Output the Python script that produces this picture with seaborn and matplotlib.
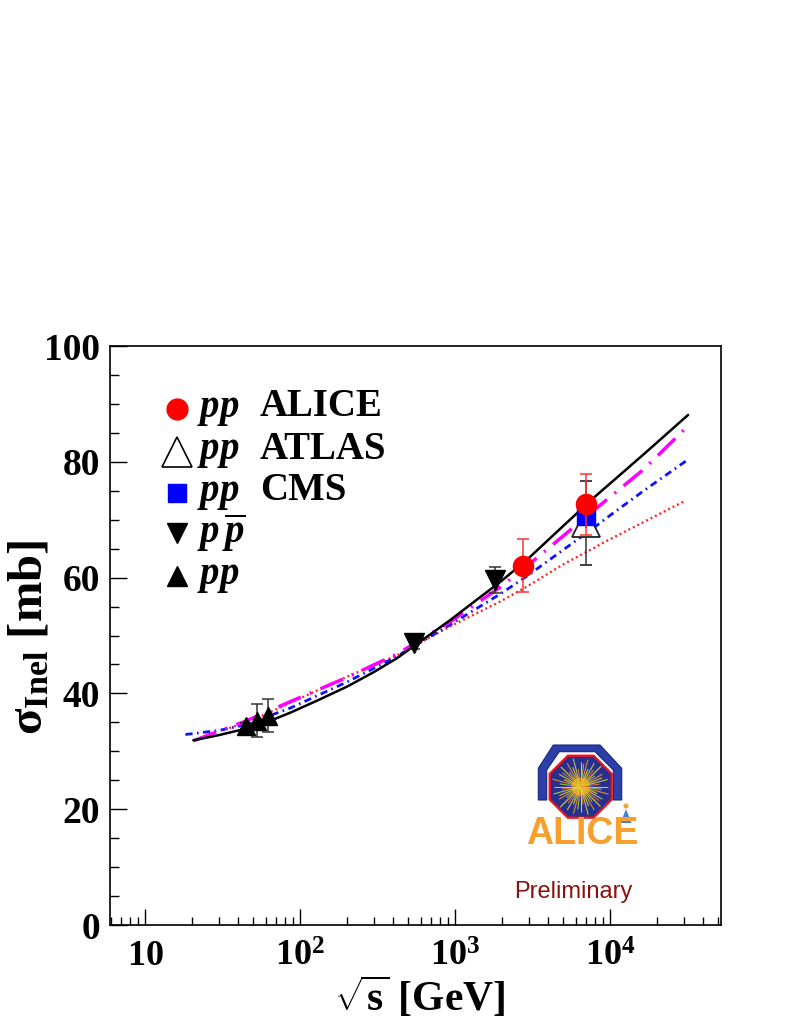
import numpy as np
import pandas as pd
import matplotlib
matplotlib.use('Agg')
import matplotlib.pyplot as plt
import seaborn as sns
from matplotlib.patches import Polygon, Circle, RegularPolygon
from matplotlib.ticker import FixedLocator, FixedFormatter, MultipleLocator, LogLocator, NullFormatter

# ---------------- data ----------------
alice_x = [2760, 7000]
alice_y = [62.0, 72.7]
alice_err_lo = [4.5, 5.3]
alice_err_hi = [4.7, 5.2]

atlas_x = [7000]
atlas_y = [69.4]
atlas_err = [7.3]

cms_x = [7000]
cms_y = [70.6]
cms_err = [2.0]

ppbar_x = [546, 1800]
ppbar_y = [48.7, 59.6]
ppbar_err = [1.0, 2.2]

isr_x = [44.5, 52.6, 62.3]
isr_y = [34.4, 35.3, 36.1]
isr_err = [0.5, 2.85, 2.85]

# model curves
black_x = [20.5, 30, 44.5, 62, 87, 130, 202, 300, 423, 600, 935, 1400, 1967, 2890, 4800, 7850, 16500, 31900]
black_y = [31.9, 32.8, 33.9, 35.1, 36.7, 38.8, 41.2, 43.7, 46.1, 49.0, 52.7, 56.3, 59.3, 63.0, 68.5, 73.8, 81.3, 88.1]

magenta_x = [20.5, 30, 44.5, 87, 202, 423, 935, 1967, 2890, 7850, 16500, 31900]
magenta_y = [31.8, 33.5, 35.2, 38.6, 42.8, 46.8, 52.4, 58.4, 61.9, 71.6, 78.7, 86.2]

blue_x = [18.2, 30, 44.5, 87, 202, 423, 935, 1967, 2890, 7850, 10070, 16500, 31900]
blue_y = [32.9, 33.6, 34.6, 37.5, 42.0, 46.4, 51.9, 57.2, 60.2, 68.6, 70.8, 75.0, 80.4]

red_x = [35, 60, 87, 202, 423, 935, 1967, 2890, 5000, 7850, 9000, 16500, 30700]
red_y = [34.0, 36.4, 38.4, 42.9, 46.6, 51.6, 55.9, 58.4, 62.3, 65.1, 66.0, 69.6, 73.3]

x_ticks = [10, 100, 1000, 10000]
x_tick_labels = [r'$10$', r'$10^{2}$', r'$10^{3}$', r'$10^{4}$']
y_ticks = [0, 20, 40, 60, 80, 100]

legend_labels = [r'$pp$', r'$pp$', r'$pp$', r'$p\,\overline{p}$', r'$pp$']
legend_exps = ['ALICE', 'ATLAS', 'CMS', '', '']

# ---------------- style ----------------
sns.set_theme(style='white')
plt.rcParams['font.family'] = ['Liberation Serif', 'DejaVu Serif']
plt.rcParams['font.weight'] = 'bold'
plt.rcParams['text.color'] = 'black'
plt.rcParams['axes.labelcolor'] = 'black'
plt.rcParams['xtick.color'] = 'black'
plt.rcParams['ytick.color'] = 'black'
plt.rcParams['mathtext.fontset'] = 'custom'
plt.rcParams['mathtext.rm'] = 'Liberation Serif:bold'
plt.rcParams['mathtext.it'] = 'Liberation Serif:italic:bold'
plt.rcParams['mathtext.bf'] = 'Liberation Serif:bold'

W, H = 789, 1021
fig = plt.figure(figsize=(W / 100, H / 100), dpi=100)
fig.patch.set_facecolor('white')
L, R, T, B = 110, 721, 346, 925
ax = fig.add_axes([L / W, 1 - B / H, (R - L) / W, (B - T) / H])
ax.set_facecolor('white')
ax.set_xscale('log')
ax.set_xlim(5.94, 52000)
ax.set_ylim(0, 100)

# ---------------- curves ----------------
curves = pd.concat([
    pd.DataFrame({'x': black_x, 'y': black_y, 'model': 'black'}),
    pd.DataFrame({'x': magenta_x, 'y': magenta_y, 'model': 'magenta'}),
    pd.DataFrame({'x': blue_x, 'y': blue_y, 'model': 'blue'}),
    pd.DataFrame({'x': red_x, 'y': red_y, 'model': 'red'}),
])
styles = {
    'red': dict(color='#ff2020', lw=1.7, ls=(0, (0.8, 1.3))),
    'blue': dict(color='#1010ff', lw=2.0, ls=(0, (2.6, 1.6, 0.6, 1.6))),
    'magenta': dict(color='#ff00ff', lw=2.5, ls=(0, (7.0, 2.8, 0.6, 2.8))),
    'black': dict(color='black', lw=1.8, ls='-'),
}
for name in ['red', 'blue', 'magenta', 'black']:
    d = curves[curves['model'] == name]
    st = styles[name]
    sns.lineplot(data=d, x='x', y='y', ax=ax, color=st['color'], linewidth=st['lw'],
                 linestyle=st['ls'], sort=False, estimator=None, legend=False, zorder=2)

# ---------------- data points ----------------
ax.errorbar(isr_x, isr_y, yerr=isr_err, fmt='^', ms=13.5, color='black', ecolor='#333333',
            elinewidth=1.1, capsize=4, capthick=1.1, zorder=4)
ax.errorbar(ppbar_x, ppbar_y, yerr=ppbar_err, fmt='v', ms=14, color='black', ecolor='#333333',
            elinewidth=1.1, capsize=4, capthick=1.1, zorder=4)
ax.errorbar(atlas_x, atlas_y, yerr=atlas_err, fmt='^', ms=20, mfc='white', mec='#222222', mew=1.3,
            color='#222222', ecolor='#333333', elinewidth=1.1, capsize=4, capthick=1.1, zorder=4)
ax.errorbar(cms_x, cms_y, yerr=cms_err, fmt='s', ms=13, color='#0000ff', ecolor='#0000ff',
            elinewidth=1.1, capsize=0, zorder=5)
ax.errorbar(alice_x, alice_y, yerr=[alice_err_lo, alice_err_hi], fmt='o', ms=14.5, color='#ff0000',
            ecolor='#ff3030', elinewidth=1.1, capsize=4, capthick=1.1, zorder=6)

# ---------------- axes / ticks ----------------
for s in ['top', 'right', 'left', 'bottom']:
    ax.spines[s].set_visible(True)
    ax.spines[s].set_color('black')
    ax.spines[s].set_linewidth(1.2)

ax.xaxis.set_major_locator(FixedLocator(x_ticks))
ax.xaxis.set_major_formatter(FixedFormatter(x_tick_labels))
ax.xaxis.set_minor_locator(LogLocator(base=10, subs=np.arange(2, 10)))
ax.xaxis.set_minor_formatter(NullFormatter())
ax.yaxis.set_major_locator(FixedLocator(y_ticks))
ax.yaxis.set_minor_locator(MultipleLocator(5))

ax.tick_params(axis='both', which='both', direction='in', top=False, right=False,
               bottom=True, left=True, color='black', width=1.0)
ax.tick_params(axis='y', which='major', length=12, labelsize=27, pad=7)
ax.tick_params(axis='y', which='minor', length=6.5)
ax.tick_params(axis='x', which='major', length=11.5, labelsize=26, pad=11)
ax.tick_params(axis='x', which='minor', length=5.5)
for lab in ax.get_xticklabels() + ax.get_yticklabels():
    lab.set_fontweight('bold')
    lab.set_color('black')

ax.set_xlabel(r'$\sqrt{\mathrm{s}}$ [GeV]', fontsize=30, fontweight='bold', color='black')
xl = ax.xaxis.label
xl.set_va('center')
ax.xaxis.set_label_coords((420 - L) / (R - L), (B - 997) / (B - T))

ax.set_ylabel(r'$\mathrm{σ}_{\mathrm{Inel}}$ [mb]', fontsize=35, fontweight='bold', color='black')
yl = ax.yaxis.label
yl.set_rotation_mode('default')
yl.set_ha('center')
yl.set_va('center')
ax.yaxis.set_label_coords((30 - L) / (R - L), (B - 637) / (B - T))

# ---------------- legend (drawn manually, ROOT style) ----------------
def fx(px):
    return (px - L) / (R - L)

def fy(py):
    return (B - py) / (B - T)

rows_y = [409, 452, 493, 533, 576]
mk = [dict(marker='o', ms=15, mfc='#ff0000', mec='#ff0000'),
      dict(marker='^', ms=21, mfc='white', mec='black', mew=1.2),
      dict(marker='s', ms=13.5, mfc='#0000ff', mec='#0000ff'),
      dict(marker='v', ms=14, mfc='black', mec='black'),
      dict(marker='^', ms=14, mfc='black', mec='black')]
for i, py in enumerate(rows_y):
    ax.plot([fx(177)], [fy(py)], transform=ax.transAxes, ls='none', clip_on=False, zorder=7, **mk[i])
    ax.text(fx(197), fy(py), legend_labels[i], transform=ax.transAxes, fontsize=28,
            ha='left', va='center', zorder=7)
    if legend_exps[i]:
        ax.text(fx(260), fy(py - 3), legend_exps[i], transform=ax.transAxes, fontsize=28,
                fontweight='bold', ha='left', va='center', zorder=7)

# Preliminary
ax.text(fx(573), fy(892), 'Preliminary', transform=ax.transAxes, fontsize=17,
        family=['Liberation Sans', 'DejaVu Sans'], fontweight='normal', color='#8b1010',
        ha='center', va='center')

# ---------------- ALICE logo ----------------
lx0, lx1, ly0, ly1 = 525, 642, 738, 855
lax = fig.add_axes([lx0 / W, 1 - ly1 / H, (lx1 - lx0) / W, (ly1 - ly0) / H])
lax.set_xlim(lx0, lx1)
lax.set_ylim(ly1, ly0)
lax.axis('off')
outer = [(538.3, 800), (538.3, 768.3), (553.3, 745), (600, 745), (621.7, 768.3), (621.7, 800)]
inner = [(546.7, 800), (546.7, 770), (559.3, 751.7), (595, 751.7), (613.3, 770), (613.3, 800)]
lax.add_patch(Polygon(outer + inner[::-1], closed=True, facecolor='#2b3fa8', edgecolor='#1b2580', lw=0.8))
cx, cy = 580.7, 786.7
lax.add_patch(RegularPolygon((cx, cy), numVertices=8, radius=33.6, orientation=np.pi / 8,
                             facecolor='#27308f', edgecolor='#ff1010', lw=1.6))
ray_cols = ['#f4e23a', '#9fd040', '#ff9a20', '#ffd21f', '#c8e040', '#ff7a20']
ray_len = [27, 21, 29, 18, 25, 23, 28, 19]
for k in range(48):
    a = 2 * np.pi * k / 48
    r = ray_len[k % len(ray_len)]
    lax.plot([cx, cx + r * np.cos(a)], [cy, cy + r * np.sin(a)], color=ray_cols[k % len(ray_cols)],
             lw=0.8, alpha=0.85, solid_capstyle='butt')
lax.add_patch(Circle((cx, cy), 9, facecolor='#ff8a20', edgecolor='none', alpha=0.8))
lax.add_patch(Circle((cx, cy), 4.5, facecolor='#ffb030', edgecolor='none', alpha=0.9))
# little Alice figure
lax.add_patch(Polygon([(620.5, 823), (631.5, 823), (626, 809)], closed=True, facecolor='#3f86d6', edgecolor='none'))
lax.add_patch(Circle((626, 806), 2.6, facecolor='#f3a33a', edgecolor='none'))
lax.text(582, 834, 'ALICE', color='#f7a030', fontsize=27, fontweight='bold',
         family=['Liberation Sans', 'DejaVu Sans'], ha='center', va='center')

fig.savefig('out.png', dpi=100, facecolor='white')
